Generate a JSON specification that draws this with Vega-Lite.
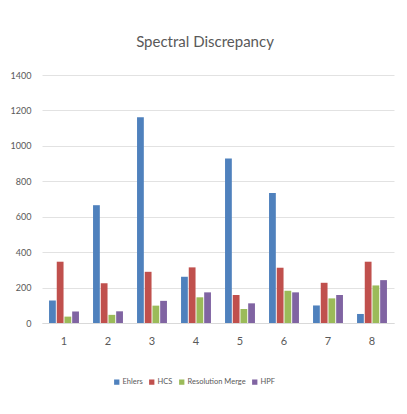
{
  "$schema": "https://vega.github.io/schema/vega-lite/v6.json",
  "autosize": {"type": "none"},
  "width": 352,
  "height": 248,
  "padding": {"left": 42, "top": 75, "right": 13, "bottom": 91},
  "background": "white",
  "title": {
    "text": "Spectral Discrepancy",
    "font": "Lato, sans-serif",
    "fontSize": 15,
    "fontWeight": "normal",
    "color": "#595959",
    "anchor": "middle",
    "frame": "group",
    "offset": 21,
    "dx": -13
  },
  "data": {
    "values": [
      {"group": "1", "method": "Ehlers", "value": 127},
      {"group": "1", "method": "HCS", "value": 346},
      {"group": "1", "method": "Resolution Merge", "value": 36},
      {"group": "1", "method": "HPF", "value": 65},
      {"group": "2", "method": "Ehlers", "value": 665},
      {"group": "2", "method": "HCS", "value": 224},
      {"group": "2", "method": "Resolution Merge", "value": 46},
      {"group": "2", "method": "HPF", "value": 66},
      {"group": "3", "method": "Ehlers", "value": 1162},
      {"group": "3", "method": "HCS", "value": 289},
      {"group": "3", "method": "Resolution Merge", "value": 98},
      {"group": "3", "method": "HPF", "value": 125},
      {"group": "4", "method": "Ehlers", "value": 261},
      {"group": "4", "method": "HCS", "value": 314},
      {"group": "4", "method": "Resolution Merge", "value": 145},
      {"group": "4", "method": "HPF", "value": 173},
      {"group": "5", "method": "Ehlers", "value": 928},
      {"group": "5", "method": "HCS", "value": 158},
      {"group": "5", "method": "Resolution Merge", "value": 79},
      {"group": "5", "method": "HPF", "value": 111},
      {"group": "6", "method": "Ehlers", "value": 734},
      {"group": "6", "method": "HCS", "value": 312},
      {"group": "6", "method": "Resolution Merge", "value": 182},
      {"group": "6", "method": "HPF", "value": 173},
      {"group": "7", "method": "Ehlers", "value": 99},
      {"group": "7", "method": "HCS", "value": 227},
      {"group": "7", "method": "Resolution Merge", "value": 139},
      {"group": "7", "method": "HPF", "value": 158},
      {"group": "8", "method": "Ehlers", "value": 51},
      {"group": "8", "method": "HCS", "value": 346},
      {"group": "8", "method": "Resolution Merge", "value": 212},
      {"group": "8", "method": "HPF", "value": 242}
    ]
  },
  "mark": {"type": "bar"},
  "encoding": {
    "x": {
      "field": "group",
      "type": "ordinal",
      "scale": {"paddingInner": 0.32, "paddingOuter": 0.16},
      "axis": {
        "title": null,
        "labelAngle": 0,
        "ticks": false,
        "domainColor": "#d9d9d9",
        "labelColor": "#595959",
        "labelFont": "Lato, sans-serif",
        "labelFontSize": 11,
        "labelPadding": 12
      }
    },
    "xOffset": {
      "field": "method",
      "type": "nominal",
      "sort": ["Ehlers", "HCS", "Resolution Merge", "HPF"],
      "scale": {"paddingInner": 0.12}
    },
    "y": {
      "field": "value",
      "type": "quantitative",
      "scale": {"domain": [0, 1400], "nice": false},
      "axis": {
        "title": null,
        "values": [0, 200, 400, 600, 800, 1000, 1200, 1400],
        "format": "d",
        "domain": false,
        "ticks": false,
        "gridColor": "#e2e2e2",
        "labelColor": "#595959",
        "labelFont": "Lato, sans-serif",
        "labelFontSize": 9,
        "labelPadding": 11
      }
    },
    "color": {
      "field": "method",
      "type": "nominal",
      "scale": {
        "domain": ["Ehlers", "HCS", "Resolution Merge", "HPF"],
        "range": ["#4f81bd", "#c0504d", "#9bbb59", "#8064a2"]
      },
      "legend": {
        "title": null,
        "orient": "none",
        "legendX": 71,
        "legendY": 303,
        "direction": "horizontal",
        "symbolType": "square",
        "symbolSize": 28,
        "symbolStrokeWidth": 0,
        "labelFont": "Lato, sans-serif",
        "labelFontSize": 7.5,
        "labelColor": "#595959",
        "labelOffset": 2,
        "columnPadding": 5
      }
    }
  },
  "config": {
    "view": {"stroke": null}
  }
}
